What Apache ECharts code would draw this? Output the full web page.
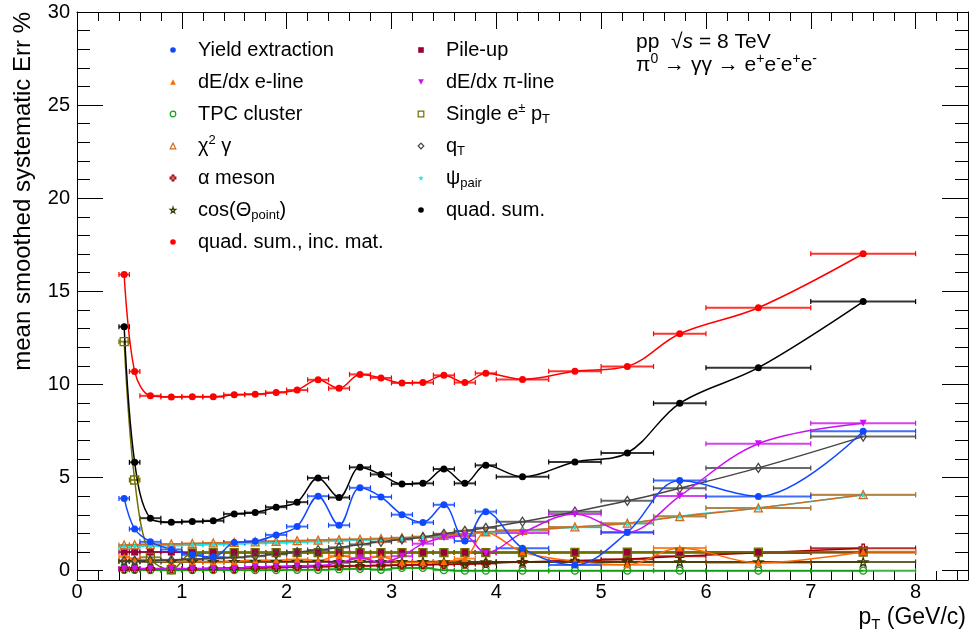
<!DOCTYPE html>
<html><head><meta charset="utf-8">
<script src="https://cdn.jsdelivr.net/npm/echarts@6/dist/echarts.min.js"></script>
<style>html,body{margin:0;padding:0;background:#fff}#c{width:969px;height:637px}</style>
</head><body><div id="c"></div>
<script>
// ---- data ----
const ptCenter = [0.45,0.55,0.7,0.9,1.1,1.3,1.5,1.7,1.9,2.1,2.3,2.5,2.7,2.9,3.1,3.3,3.5,3.7,3.9,4.25,4.75,5.25,5.75,6.5,7.5];
const ptLow    = [0.4,0.5,0.6,0.8,1.0,1.2,1.4,1.6,1.8,2.0,2.2,2.4,2.6,2.8,3.0,3.2,3.4,3.6,3.8,4.0,4.5,5.0,5.5,6.0,7.0];
const ptHigh   = [0.5,0.6,0.8,1.0,1.2,1.4,1.6,1.8,2.0,2.2,2.4,2.6,2.8,3.0,3.2,3.4,3.6,3.8,4.0,4.5,5.0,5.5,6.0,7.0,8.0];

const yieldExtraction = [3.88,2.24,1.55,1.14,0.85,0.73,1.51,1.58,1.92,2.37,4.0,2.44,4.45,3.96,3.01,2.59,3.54,1.59,3.17,1.21,0.31,2.05,4.84,3.99,7.49];
const dEdxELine  = [0.75,0.65,0.55,0.5,0.5,0.45,0.5,0.55,0.55,0.6,0.55,0.8,0.65,0.75,0.45,0.45,0.5,0.65,2.05,1.0,0.5,0.32,1.22,0.42,1.02];
const tpcCluster = [0.05,0.05,0.03,0.02,0.03,0.03,0.03,0.03,0.03,0.05,0.05,0.08,0.1,0.05,0.15,0.15,0.03,0.0,0.0,0.0,0.0,0.0,0.0,0.0,0.0];
const chi2Gamma  = [1.38,1.39,1.41,1.43,1.46,1.49,1.52,1.55,1.58,1.61,1.64,1.67,1.69,1.72,1.77,1.83,1.9,1.97,2.08,2.17,2.35,2.55,2.91,3.37,4.08];
const alphaMeson = [0.1,0.1,0.1,0.1,0.1,0.12,0.13,0.15,0.17,0.2,0.22,0.24,0.26,0.28,0.3,0.32,0.34,0.36,0.39,0.47,0.54,0.62,0.78,0.96,1.21];
const cosPoint   = [0.5,0.5,0.48,0.48,0.48,0.48,0.48,0.48,0.48,0.48,0.48,0.48,0.48,0.48,0.48,0.48,0.47,0.47,0.47,0.47,0.47,0.47,0.47,0.47,0.47];
const quadSumIncMat = [15.9,10.7,9.39,9.33,9.34,9.34,9.45,9.48,9.57,9.7,10.25,9.79,10.54,10.35,10.08,10.1,10.49,10.1,10.6,10.27,10.71,10.97,12.72,14.12,17.02];
const pileUp     = [1.0,1.0,1.0,1.0,0.98,0.98,0.98,0.98,0.98,0.98,0.98,0.98,0.98,0.98,0.98,0.98,0.98,0.98,0.98,0.98,0.98,0.98,0.98,0.98,0.98];
const dEdxPiLine = [0.1,0.1,0.1,0.1,0.1,0.1,0.12,0.2,0.22,0.25,0.27,0.42,0.68,0.45,0.78,1.45,1.77,1.87,0.95,2.03,3.05,2.06,4.01,6.82,7.92];
const singleEPt  = [12.3,4.87,0.72,0.05,0.96,0.97,0.97,0.97,0.97,0.97,0.97,0.97,0.97,0.97,0.97,0.97,0.97,0.97,0.97,0.97,0.98,0.99,0.99,1.0,1.0];
const qT         = [0.52,0.53,0.55,0.58,0.62,0.66,0.71,0.78,0.88,1.0,1.11,1.25,1.41,1.55,1.68,1.8,1.98,2.14,2.3,2.63,3.17,3.75,4.43,5.52,7.2];
const psiPair    = [1.3,1.31,1.33,1.35,1.38,1.41,1.44,1.47,1.5,1.53,1.57,1.61,1.65,1.69,1.75,1.81,1.87,1.95,2.05,2.15,2.33,2.53,2.93,3.37,4.07];
const quadSum    = [13.1,5.82,2.82,2.6,2.64,2.68,3.05,3.12,3.41,3.68,4.98,3.93,5.55,5.17,4.65,4.69,5.46,4.69,5.66,5.04,5.84,6.32,8.99,10.9,14.45];

const xTickLabels = ['0','1','2','3','4','5','6','7','8'];
const yTickLabels = ['0','5','10','15','20','25','30'];

const legendCol1 = ['Yield extraction','dE/dx e-line','TPC cluster','chi2','alpha','cospoint','quad. sum., inc. mat.'];
const legendCol2 = ['Pile-up','dE/dx π-line','singleE','qT','psipair','quad. sum.'];
const legendText = {
  'chi2':'χ{sup|2} γ',
  'alpha':'α meson',
  'cospoint':'cos(Θ{sub|point})',
  'singleE':'Single e{sup|±} p{sub|T}',
  'qT':'q{sub|T}',
  'psipair':'ψ{sub|pair}'
};

// ---- styling ----
const FONT = 'Liberation Sans, Arial, Helvetica, sans-serif';
const STAR = 'path://M50,0 L61,35 L98,35 L68,57 L79,91 L50,70 L21,91 L32,57 L2,35 L39,35 Z';
const CROSS = 'path://M35,0 L65,0 L65,35 L100,35 L100,65 L65,65 L65,100 L35,100 L35,65 L0,65 L0,35 L35,35 Z';

const defs = [
  {key:'TPC cluster', data:tpcCluster, color:'#14a014', symbol:'circle', size:7, hollow:true},
  {key:'alpha', data:alphaMeson, color:'#a00000', symbol:CROSS, size:8, hollow:true},
  {key:'cospoint', data:cosPoint, color:'#3a3a00', symbol:STAR, size:9, hollow:true},
  {key:'Pile-up', data:pileUp, color:'#99003a', symbol:'rect', size:7, hollow:false},
  {key:'singleE', data:singleEPt, color:'#707000', symbol:'rect', size:8, hollow:true},
  {key:'dE/dx e-line', data:dEdxELine, color:'#ff6a00', symbol:'triangle', size:7, hollow:false},
  {key:'psipair', data:psiPair, color:'#18e4e4', symbol:STAR, size:7, hollow:false},
  {key:'chi2', data:chi2Gamma, color:'#d2691e', symbol:'triangle', size:8, hollow:true},
  {key:'qT', data:qT, color:'#444444', symbol:'diamond', size:[6,9], hollow:true},
  {key:'dE/dx π-line', data:dEdxPiLine, color:'#cc11ee', symbol:'triangle', size:7, hollow:false, rotate:180},
  {key:'Yield extraction', data:yieldExtraction, color:'#1048ff', symbol:'circle', size:7, hollow:false},
  {key:'quad. sum.', data:quadSum, color:'#000000', symbol:'circle', size:7, hollow:false},
  {key:'quad. sum., inc. mat.', data:quadSumIncMat, color:'#ff0000', symbol:'circle', size:7, hollow:false}
];
const defByKey = {}; defs.forEach(d => defByKey[d.key] = d);

function itemStyleOf(d) {
  return d.hollow ? {color:'rgba(0,0,0,0)', borderColor:d.color, borderWidth:1.3}
                  : {color:d.color, borderColor:d.color, borderWidth:0};
}

const series = [];
defs.forEach(d => {
  series.push({
    type:'custom', name:d.key + '_err', xAxisIndex:0, yAxisIndex:0, silent:true, clip:true,
    data: ptCenter.map((x,i) => [ptLow[i], ptHigh[i], d.data[i]]),
    encode:{x:[0,1], y:2},
    renderItem:(params, api) => {
      const a = api.coord([api.value(0), api.value(2)]);
      const b = api.coord([api.value(1), api.value(2)]);
      const st = {stroke:d.color, lineWidth:2, opacity:0.8};
      return {type:'group', children:[
        {type:'line', shape:{x1:a[0], y1:a[1], x2:b[0], y2:b[1]}, style:st},
        {type:'line', shape:{x1:a[0], y1:a[1]-2.5, x2:a[0], y2:a[1]+2.5}, style:{stroke:d.color, lineWidth:1.2}},
        {type:'line', shape:{x1:b[0], y1:b[1]-2.5, x2:b[0], y2:b[1]+2.5}, style:{stroke:d.color, lineWidth:1.2}}
      ]};
    }
  });
  series.push({
    type:'line', name:d.key, xAxisIndex:0, yAxisIndex:0,
    data: ptCenter.map((x,i) => [x, d.data[i]]),
    smooth:0.35, showAllSymbol:true, symbol:d.symbol, symbolSize:d.size, symbolRotate:d.rotate || 0,
    itemStyle:itemStyleOf(d), lineStyle:{color:d.color, width:1.5},
    emphasis:{disabled:true}, animation:false
  });
});

const rich = {
  sub:{fontSize:13, fontFamily:FONT, lineHeight:12, padding:[11,0,0,0]},
  sup:{fontSize:13, fontFamily:FONT, lineHeight:12, padding:[0,0,11,0]}
};
function legendData(keys) {
  return keys.map(k => {
    const d = defByKey[k];
    return {name:k, itemStyle: d.hollow ? {color:'rgba(0,0,0,0)', borderColor:d.color, borderWidth:1.2}
                                        : {color:d.color, borderColor:d.color, borderWidth:0}};
  });
}
function mkLegend(keys, left) {
  return {
    data:legendData(keys), left:left, top:38, orient:'vertical', padding:0,
    itemWidth:40, itemHeight:7, itemGap:8, selectedMode:false,
    lineStyle:{width:0},
    textStyle:{fontSize:20, fontFamily:FONT, color:'#000', lineHeight:24, rich:rich},
    formatter: n => legendText[n] || n
  };
}

const tickStyle = {color:'#000', width:1};
const option = {
  animation:false,
  backgroundColor:'#fff',
  grid:[
    {left:77, right:1, top:12, bottom:57, outerBoundsMode:'none', containLabel:false},
    {left:77, right:1, top:12, bottom:66.311, outerBoundsMode:'none', containLabel:false},
    {left:77, width:943.41, top:12, bottom:57, outerBoundsMode:'none', containLabel:false}
  ],
  xAxis:[
    {gridIndex:0, type:'value', min:0, max:8.5, position:'bottom',
     axisLine:{show:true, onZero:false, lineStyle:tickStyle}, axisTick:{show:false}, axisLabel:{show:false}, splitLine:{show:false}},
    {gridIndex:0, type:'value', min:0, max:8.5, position:'top',
     axisLine:{show:true, onZero:false, lineStyle:tickStyle}, axisTick:{show:false}, axisLabel:{show:false}, splitLine:{show:false}},
    {gridIndex:1, type:'value', min:0, max:8.5, show:false},
    {gridIndex:2, type:'value', min:0, max:9, interval:1, position:'bottom',
     axisLine:{show:false, onZero:false}, axisTick:{show:true, inside:true, length:17, lineStyle:tickStyle},
     minorTick:{show:true, splitNumber:5, length:9, lineStyle:tickStyle},
     axisLabel:{show:true, fontSize:20, fontFamily:FONT, color:'#000', margin:2,
       formatter: v => (Number.isInteger(v) && v < xTickLabels.length) ? xTickLabels[v] : ''},
     splitLine:{show:false}},
    {gridIndex:2, type:'value', min:0, max:9, interval:1, position:'top',
     axisLine:{show:false, onZero:false}, axisTick:{show:true, inside:true, length:17, lineStyle:tickStyle},
     minorTick:{show:true, splitNumber:5, length:9, lineStyle:tickStyle},
     axisLabel:{show:false}, splitLine:{show:false}}
  ],
  yAxis:[
    {gridIndex:0, type:'value', min:-0.5, max:30, position:'left',
     axisLine:{show:true, onZero:false, lineStyle:tickStyle}, axisTick:{show:false}, axisLabel:{show:false}, splitLine:{show:false}},
    {gridIndex:0, type:'value', min:-0.5, max:30, position:'right',
     axisLine:{show:true, onZero:false, lineStyle:tickStyle}, axisTick:{show:false}, axisLabel:{show:false}, splitLine:{show:false}},
    {gridIndex:1, type:'value', min:0, max:30, interval:5, position:'left',
     axisLine:{show:false, onZero:false}, axisTick:{show:true, inside:true, length:26, lineStyle:tickStyle},
     minorTick:{show:true, splitNumber:5, length:13, lineStyle:tickStyle},
     axisLabel:{show:true, fontSize:20, fontFamily:FONT, color:'#000', margin:7,
       formatter: v => yTickLabels[Math.round(v/5)]},
     splitLine:{show:false}},
    {gridIndex:1, type:'value', min:0, max:30, interval:5, position:'right',
     axisLine:{show:false, onZero:false}, axisTick:{show:true, inside:true, length:26, lineStyle:tickStyle},
     minorTick:{show:true, splitNumber:5, length:13, lineStyle:tickStyle},
     axisLabel:{show:false}, splitLine:{show:false}},
    {gridIndex:2, type:'value', min:0, max:1, show:false}
  ],
  legend:[ mkLegend(legendCol1, 153), mkLegend(legendCol2, 401) ],
  graphic:[
    {type:'text', x:23, y:12, rotation:Math.PI/2,
     style:{text:'mean smoothed systematic Err %', fontSize:24, fontFamily:FONT, fill:'#000', align:'right', verticalAlign:'middle'}},
    {type:'text', x:966, y:618,
     style:{text:'p{sub|T} (GeV/c)', fontSize:23, fontFamily:FONT, fill:'#000', align:'right', verticalAlign:'middle',
       rich:{sub:{fontSize:15, fontFamily:FONT, lineHeight:14, padding:[14,0,0,0]}}}},
    {type:'text', x:636, y:42,
     style:{text:'pp  √{it|s} = 8 TeV', fontSize:21, fontFamily:FONT, fill:'#000', align:'left', verticalAlign:'middle',
       rich:{it:{fontSize:21, fontFamily:FONT, fontStyle:'italic'}}}},
    {type:'text', x:636, y:65,
     style:{text:'π{sup|0} → γγ → e{sup|+}e{sup|-}e{sup|+}e{sup|-}', fontSize:21, fontFamily:FONT, fill:'#000', align:'left', verticalAlign:'middle',
       rich:{sup:{fontSize:14, fontFamily:FONT, lineHeight:12, padding:[0,0,12,0]}}}}
  ],
  series:series
};
const chart = echarts.init(document.getElementById('c'), null, {renderer:'canvas'});
chart.setOption(option);
</script>
</body></html>
